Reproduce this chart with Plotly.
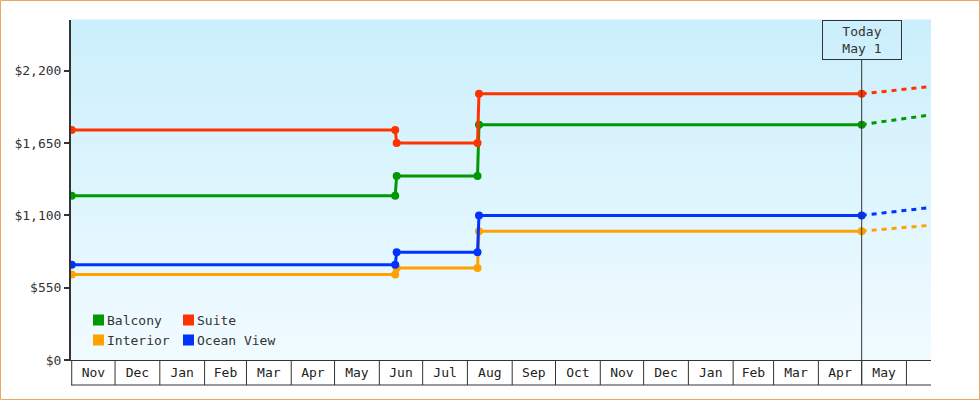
import pandas as pd
import plotly.graph_objects as go

# cabin price history (step changes) + short forecast after today
series_names = ["Balcony", "Suite", "Interior", "Ocean View"]
series_colors = ["#009a00", "#ff3300", "#ffa200", "#0033ff"]

price_dates = ["2023-11-01", "2024-06-12", "2024-06-13",
               "2024-08-08", "2024-08-09", "2025-05-01"]
balcony = [1250, 1250, 1400, 1400, 1790, 1790]
suite = [1750, 1750, 1650, 1650, 2025, 2025]
interior = [650, 650, 700, 700, 980, 980]
ocean_view = [725, 725, 820, 820, 1100, 1100]

forecast_dates = ["2025-05-01", "2025-06-18"]
forecast_end = [1865, 2080, 1025, 1160]

today = "2025-05-01"
month_labels = ["Nov", "Dec", "Jan", "Feb", "Mar", "Apr", "May", "Jun", "Jul",
                "Aug", "Sep", "Oct", "Nov", "Dec", "Jan", "Feb", "Mar", "Apr", "May"]
y_ticks = [0, 550, 1100, 1650, 2200]
y_labels = ["$0", "$550", "$1,100", "$1,650", "$2,200"]

W, H = 980, 400
ML, MR, MT, MB = 71, 49, 20, 40
PW, PH = W - ML - MR, H - MT - MB
FONT = "DejaVu Sans Mono"
INK = "#333333"


def px_x(px):
    return (px - ML) / PW


def px_y(py):
    return (H - MB - py) / PH


fig = go.Figure()
values = [balcony, suite, interior, ocean_view]
for name, color, vals, end in zip(series_names, series_colors, values, forecast_end):
    fig.add_trace(go.Scatter(
        x=price_dates, y=vals, mode="lines+markers", name=name,
        line=dict(color=color, width=3),
        marker=dict(color=color, size=8, symbol="circle"),
        showlegend=False, hoverinfo="x+y",
    ))
    fig.add_trace(go.Scatter(
        x=forecast_dates, y=[vals[-1], end], mode="lines", name=name + " forecast",
        line=dict(color=color, width=3, dash="5px,5px"),
        showlegend=False, hoverinfo="skip",
    ))

shapes = []

# gradient background of the plot area
n_bands = 40
top_rgb, bot_rgb = (203, 239, 252), (241, 251, 255)
for i in range(n_bands):
    t = i / (n_bands - 1)
    c = tuple(round(b + (a - b) * t) for a, b in zip(top_rgb, bot_rgb))
    shapes.append(dict(type="rect", xref="paper", yref="paper", layer="below",
                       x0=0, x1=1, y0=i / n_bands, y1=(i + 1.05) / n_bands,
                       fillcolor="rgb(%d,%d,%d)" % c, line=dict(width=0)))

# month cells below the axis
month_starts = pd.date_range("2023-11-01", "2025-06-01", freq="MS")
for d in month_starts:
    shapes.append(dict(type="line", xref="x", yref="paper", x0=d, x1=d,
                       y0=0, y1=px_y(385), line=dict(color=INK, width=1)))
shapes.append(dict(type="line", xref="paper", yref="paper", x0=0, x1=1,
                   y0=px_y(385), y1=px_y(385), line=dict(color=INK, width=1)))
mid_months = [s + (e - s) / 2 for s, e in zip(month_starts[:-1], month_starts[1:])]

# today marker
shapes.append(dict(type="line", xref="x", yref="paper", x0=today, x1=today,
                   y0=px_y(385), y1=px_y(60), line=dict(color=INK, width=1)))

# outer frame
shapes.append(dict(type="rect", xref="paper", yref="paper",
                   x0=px_x(0.5), x1=px_x(W - 0.5), y0=px_y(H - 0.5), y1=px_y(0.5),
                   line=dict(color="#e9a862", width=1)))

annotations = [dict(
    x=today, y=1, xref="x", yref="paper", xanchor="center", yanchor="top",
    text="Today<br>May 1", showarrow=False, align="center",
    font=dict(family=FONT, size=13, color=INK),
    bordercolor=INK, borderwidth=1, borderpad=1, width=76, height=36,
)]

# legend (two columns, colored squares)
legend_pos = [(93, 320), (183, 320), (93, 340), (183, 340)]
for (lx, ly), name, color in zip(legend_pos, series_names, series_colors):
    shapes.append(dict(type="rect", xref="paper", yref="paper",
                       x0=px_x(lx), x1=px_x(lx + 11), y0=px_y(ly + 5.5), y1=px_y(ly - 5.5),
                       fillcolor=color, line=dict(width=0)))
    annotations.append(dict(x=px_x(lx + 12), y=px_y(ly), xref="paper", yref="paper",
                            xanchor="left", yanchor="middle", showarrow=False,
                            text=name, font=dict(family=FONT, size=13, color=INK)))

fig.update_layout(
    width=W, height=H,
    margin=dict(l=ML, r=MR, t=MT, b=MB),
    paper_bgcolor="white", plot_bgcolor="rgb(241,251,255)",
    font=dict(family=FONT, size=13, color=INK),
    shapes=shapes, annotations=annotations,
    showlegend=False,
)
fig.update_xaxes(
    type="date", range=["2023-10-31 12:00", "2025-06-18"],
    showgrid=False, zeroline=False, showline=True, linecolor=INK, linewidth=1,
    tickvals=mid_months, ticktext=month_labels, ticks="",
    tickfont=dict(family=FONT, size=13, color="#222222"),
)
fig.update_yaxes(
    range=[0, 2586], showgrid=False, zeroline=False,
    showline=True, linecolor=INK, linewidth=2,
    tickvals=y_ticks, ticktext=y_labels,
    ticks="outside", ticklen=5, tickwidth=2, tickcolor=INK,
    tickfont=dict(family=FONT, size=13, color=INK),
)

fig.write_html("out.html", config={"displayModeBar": False},
               post_script="document.body.style.margin='0px';")
